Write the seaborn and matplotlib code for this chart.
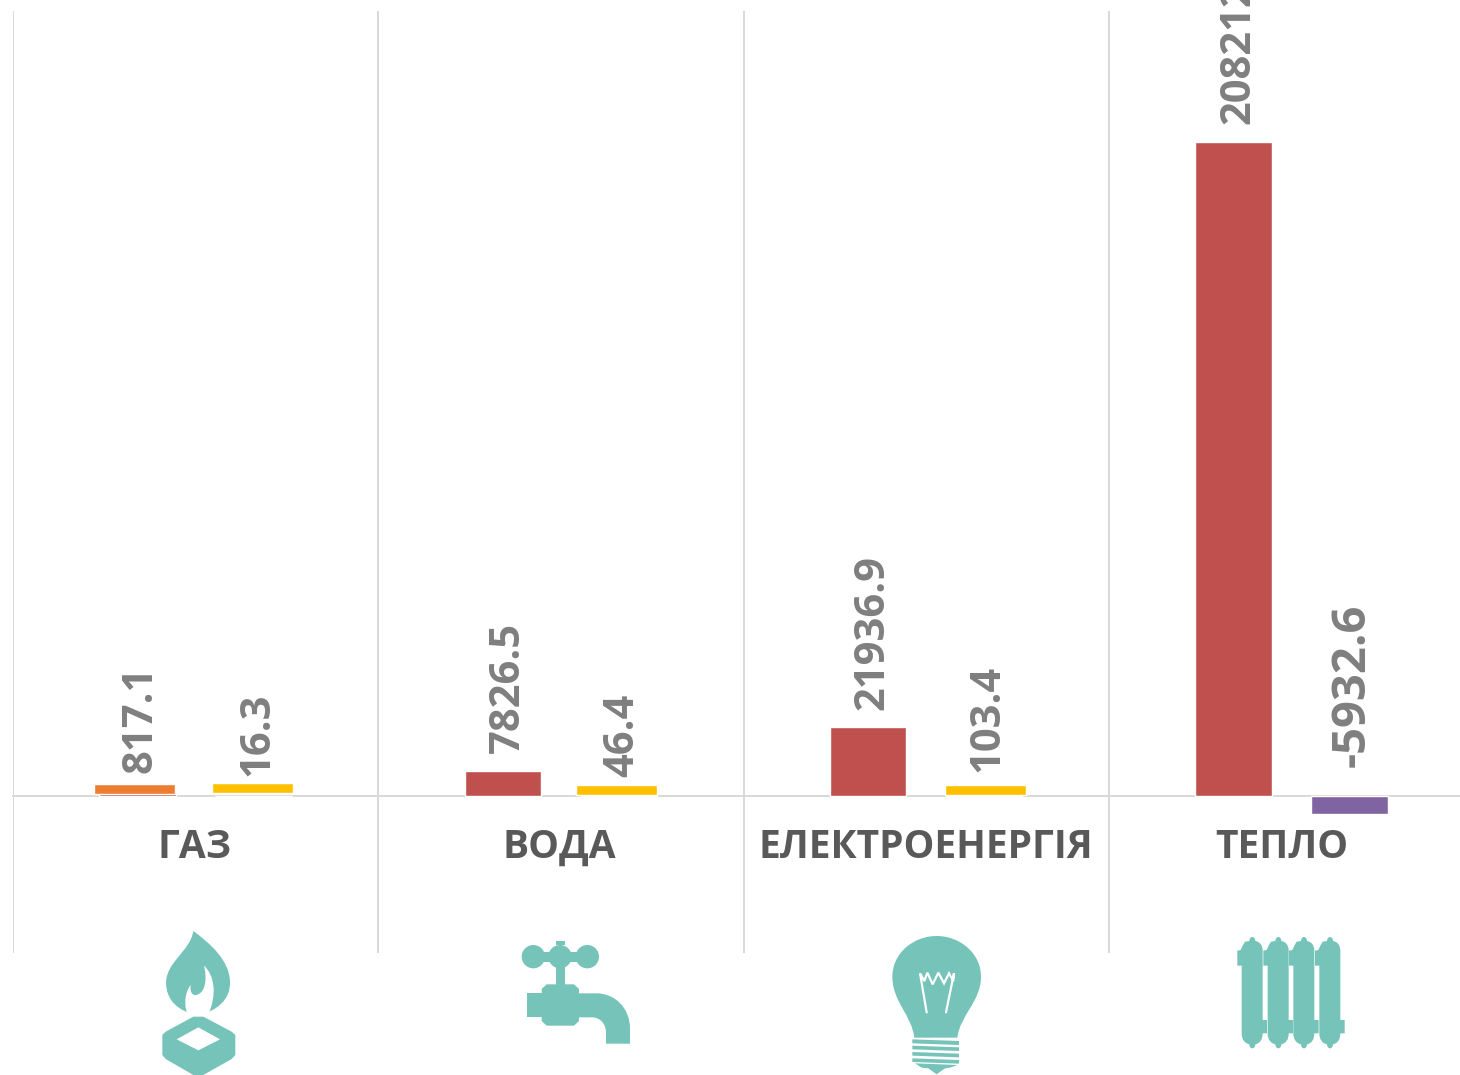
import matplotlib
matplotlib.use("Agg")
import matplotlib.pyplot as plt
import matplotlib.patches as mpatches
from matplotlib.path import Path
import pandas as pd
import seaborn as sns

# ---- data ----
categories = ["ГАЗ", "ВОДА", "ЕЛЕКТРОЕНЕРГІЯ", "ТЕПЛО"]
series_a = [817.1, 7826.5, 21936.9, 208212.0]
series_b = [16.3, 46.4, 103.4, -5932.6]
labels_a = ["817.1", "7826.5", "21936.9", "208212"]
labels_b = ["16.3", "46.4", "103.4", "-5932.6"]
# small decorative accent bars, as (low, high) value ranges
orange_low, orange_high = [640], [3820]
yellow_low = [955, 320, 320]
yellow_high = [4140, 3500, 3500]

# ---- style ----
W, H = 1460, 1075
RED, ORANGE, YELLOW, PURPLE = "#C0504D", "#ED7D31", "#FFC000", "#8064A2"
TEAL, GRID = "#76C3B9", "#D9D9D9"
FONT = "Open Sans"
PX = 0.72  # points per pixel at 100 dpi

sns.set_theme(style="white")
plt.rcParams["font.family"] = [FONT, "DejaVu Sans"]

fig = plt.figure(figsize=(W / 100, H / 100), dpi=100, facecolor="white")
# axes run past the right edge of the image, as in the reference crop
ax = fig.add_axes([13 / W, (H - 952.6) / H, 1461 / W, 942 / H])

df = pd.DataFrame({
    "category": categories * 2,
    "value": series_a + series_b,
    "series": ["a"] * 4 + ["b"] * 4,
})
sns.barplot(data=df, x="category", y="value", hue="series", order=categories,
            palette={"a": RED, "b": PURPLE}, width=0.635, gap=0.34,
            legend=False, ax=ax, saturation=1, errorbar=None, zorder=3)

ax.bar([0 - 0.167], [orange_high[0] - orange_low[0]], bottom=orange_low,
       width=0.221, color=ORANGE, zorder=4)
yellow_offsets = [0.156, 0.152, 0.162]
ax.bar([i + yellow_offsets[i] for i in range(3)],
       [h - l for h, l in zip(yellow_high, yellow_low)], bottom=yellow_low,
       width=0.221, color=YELLOW, zorder=4)

ax.set_xlim(-0.5, 3.5)
ax.set_ylim(-50000, 250000)
ax.set_xlabel("")
ax.set_ylabel("")
ax.set_yticks([])
# category captions sit slightly left of the group centre in the reference
ax.set_xticks([-0.004, 0.995, 2.0, 2.975], categories)
ax.set_xticks([-0.5, 0.5, 1.5, 2.5, 3.5], minor=True)
ax.grid(False)
ax.grid(True, axis="x", which="minor", color=GRID, linewidth=2 * PX, zorder=0)
ax.set_axisbelow(True)
for s in ("left", "right", "top"):
    ax.spines[s].set_visible(False)
ax.spines["bottom"].set_position(("data", 0))
ax.spines["bottom"].set_color(GRID)
ax.spines["bottom"].set_linewidth(2 * PX)
ax.tick_params(axis="x", which="both", length=0, pad=32 * PX)
for t in ax.get_xticklabels():
    t.set_fontsize(28)
    t.set_fontweight("bold")
    t.set_color("#595959")
    t.set_fontfamily(FONT)
    t.set_clip_on(False)

# value labels: gap above the bar in pixels
gap_a = [20, 18, 17, 18]
gap_b = [20, 18, 23, 29]
off_a = [-0.157, -0.153, -0.153, -0.153]
off_b = [0.162, 0.161, 0.161, 0.158]
size_b = [30, 30, 30, 34]
for i in range(4):
    for val, lab, gap, off, size in (
            (series_a[i], labels_a[i], gap_a[i], off_a[i], 30),
            (series_b[i], labels_b[i], gap_b[i], off_b[i], size_b[i])):
        ax.annotate(lab, xy=(i + off, max(val, 0)), xytext=(3 * PX, gap * PX),
                    textcoords="offset points", rotation=90, ha="center",
                    va="bottom", fontsize=size, fontweight="bold",
                    color="#7F7F7F", annotation_clip=False, zorder=5)

# ---- icons, drawn on a pixel-coordinate overlay ----
ov = fig.add_axes([0, 0, 1, 1], facecolor="none")
ov.set_xlim(0, W)
ov.set_ylim(H, 0)
ov.axis("off")

M, L, C, Z = Path.MOVETO, Path.LINETO, Path.CURVE4, Path.CLOSEPOLY


def shape(ox, oy, verts, codes=None, color=TEAL, closed=True, **kw):
    """verts given in 3x zoom-crop coordinates with origin (ox, oy)."""
    pts = [(ox + x / 3, oy + y / 3) for x, y in verts]
    if codes is None:
        codes = [M] + [L] * (len(pts) - 1)
    if closed:
        pts = pts + [pts[0]]
        codes = list(codes) + [Z]
    kw.setdefault("linewidth", 0)
    ov.add_patch(mpatches.PathPatch(Path(pts, codes), facecolor=color,
                                    edgecolor=color, **kw))


def circle(ox, oy, x, y, r, color=TEAL):
    ov.add_patch(mpatches.Circle((ox + x / 3, oy + y / 3), r / 3, color=color, lw=0))


def line(ox, oy, verts, lw=2.2, color="white"):
    ov.plot([ox + x / 3 for x, _ in verts], [oy + y / 3 for _, y in verts],
            color=color, lw=lw * PX, solid_joinstyle="miter")


# gas flame
o = (130, 920)
shape(*o, [(190, 33), (180, 95), (108, 125), (108, 190), (110, 240), (140, 272), (205, 287),
           (260, 272), (302, 240), (300, 185), (298, 120), (240, 70), (190, 33)],
      [M] + [C] * 12)
shape(*o, [(222, 137), (252, 165), (264, 220), (232, 292), (178, 292), (158, 262), (165, 215),
           (182, 195), (178, 225), (195, 230), (205, 222), (226, 215), (232, 175), (222, 137)],
      [M, C, C, C, L, C, C, C, C, C, C, C, C, C], color="white")
shape(*o, [(190, 290), (220, 290), (305, 335), (316, 345), (316, 405), (305, 417), (220, 465),
           (190, 465), (107, 417), (97, 405), (97, 345), (107, 335)])
shape(*o, [(205, 322), (270, 358), (205, 391), (140, 358)], color="white")

# water tap
o = (500, 925)
for cx in (100, 180, 262):
    circle(*o, cx, 95, 35)
shape(*o, [(100, 80), (262, 80), (262, 110), (100, 110)])
shape(*o, [(168, 47), (195, 47), (195, 60), (168, 60)])
shape(*o, [(168, 125), (195, 125), (195, 180), (168, 180)])
shape(*o, [(140, 178), (222, 178), (237, 192), (237, 288), (222, 302), (140, 302), (125, 288),
           (125, 192)])
shape(*o, [(80, 205), (130, 205), (130, 277), (80, 277)])
shape(*o, [(230, 205), (290, 205), (345, 205), (390, 250), (390, 310), (390, 356), (318, 356),
           (318, 325), (318, 295), (300, 277), (275, 277), (230, 277)],
      [M, L, C, C, C, L, L, L, C, C, C, L])

# bulb
o = (870, 925)
shape(*o, [(133, 338), (125, 270), (67, 230), (67, 155), (67, 85), (130, 33), (200, 33),
           (270, 33), (333, 85), (333, 155), (333, 230), (270, 270), (262, 338)],
      [M] + [C] * 12)
line(*o, [(170, 262), (150, 145), (163, 168), (172, 143), (188, 178), (205, 143), (222, 175),
          (237, 145), (250, 168), (252, 145), (228, 262)])
for y0, y1 in ((343, 357), (362, 375), (381, 394), (400, 413)):
    shape(*o, [(127, y0), (267, y0 + 5), (267, y1 + 3), (127, y1 - 2)])
shape(*o, [(135, 415), (262, 420), (240, 428), (225, 430), (200, 448), (175, 430), (155, 428)])

# radiator
o = (1220, 925)
for cx in (97, 175, 252, 330):
    a, b = cx - 32, cx + 31
    verts = [(cx - 9, 48), (cx - 8, 32), (cx + 8, 32), (cx + 9, 48),
             (cx + 22, 50), (b, 60), (b, 78), (b, 285), (b + 13, 285), (b + 13, 325), (b, 325),
             (b, 345), (cx + 22, 355), (cx + 9, 358), (cx + 8, 374), (cx - 8, 374), (cx - 9, 358),
             (cx - 22, 355), (a, 345), (a, 325), (a, 122), (a - 13, 122), (a - 13, 77), (a - 3, 75),
             (a + 3, 62), (cx - 22, 50)]
    codes = [M, C, C, C, C, C, C, L, L, L, L, C, C, C, C, C, C, C, C, C, L, L, L, L, L, L]
    shape(*o, verts, codes)

fig.savefig("out.png", dpi=100, facecolor="white")
